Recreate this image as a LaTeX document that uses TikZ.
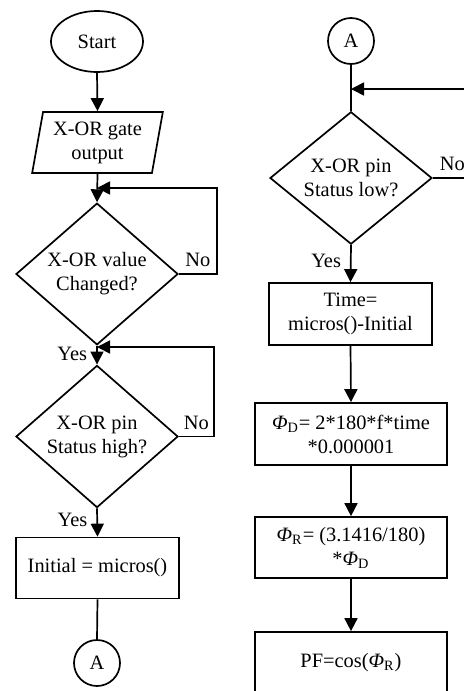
\documentclass[tikz,border=0pt]{standalone}
\usepackage{fontspec}
\setmainfont{Liberation Serif}
\usetikzlibrary{shapes.geometric,arrows.meta,calc}

\newcommand{\phisub}[1]{{\itshape Φ}\textsubscript{#1}}

\begin{document}
\begin{tikzpicture}[x=0.5pt,y=-0.5pt,
  every node/.style={font=\fontsize{10.2}{12}\selectfont, align=center},
  base/.style={draw, line width=0.85pt, inner sep=0pt},
  terminal/.style={base, ellipse, minimum width=46pt, minimum height=30.5pt},
  io/.style={base, trapezium, trapezium left angle=78, trapezium right angle=102,
    trapezium stretches=true, minimum width=65.5pt, minimum height=30.5pt},
  decision/.style={base, diamond, minimum width=81pt, minimum height=60.5pt},
  process/.style={base, rectangle, minimum height=30.5pt},
  connector/.style={base, circle, minimum size=23pt},
  flow/.style={line width=0.85pt},
  arrow/.style={flow, -{Triangle[length=6.5pt,width=6.5pt]}},
  lbl/.style={inner sep=3pt},
  ylbl/.style={inner sep=4.5pt}
]
\useasboundingbox (0,0) rectangle (464,691);
\clip (0,0) rectangle (464,691);

% left column
\node[terminal] (start) at (97,41.5) {Start};
\node[io] (input) at (97.5,142.5) {X-OR gate\\output};
\node[decision] (chg) at (97,274) {X-OR value\\Changed?};
\node[decision] (high) at (97,436.5) {X-OR pin\\Status high?};
\node[process, minimum width=81.5pt] (init) at (97.5,568) {Initial = micros()};
\node[connector] (outA) at (97,663) {A};
\coordinate (j1) at (97,188);
\coordinate (j2) at (97,347);

% right column
\node[connector] (inA) at (351,41) {A};
\node[decision] (low) at (351,178) {X-OR pin\\Status low?};
\node[process, minimum width=81.5pt, minimum height=31pt] (time) at (350.5,314) {Time=\\micros()-Initial};
\node[process, minimum width=96pt, minimum height=31pt] (phid) at (351,434)
  {\phisub{D}= 2*180*f*time\\*0.000001};
\node[process, minimum width=96pt] (phir) at (351,547.5)
  {\phisub{R}= (3.1416/180)\\*\phisub{D}};
\node[process, minimum width=96pt, minimum height=31pt] (pf) at (351,663) {PF=cos(\phisub{R})};
\coordinate (j3) at (351,89);
\coordinate (r3) at (472,178);

% left flow
\draw[arrow] (start.south) -- (input.north);
\draw[arrow] (input.south) -- (chg.north);
\draw[arrow] (chg.east) -- node[lbl, above] {No} ++(38,0) |- (j1);
\draw[arrow] (chg.south) -- node[ylbl, left, pos=0.44] {Yes} (high.north);
\draw[arrow] (high.east) -- node[lbl, above] {No} ++(35,0) |- (j2);
\draw[arrow] (high.south) -- node[ylbl, left, pos=0.4] {Yes} (init.north);
\draw[flow] (init.south) -- (outA.north);

% right flow
\draw[flow] (inA.south) -- (low.north);
\draw[flow] (low.east) -- node[lbl, above] {No} (r3);
\draw[arrow] (r3) |- (j3);
\draw[arrow] (low.south) -- node[ylbl, left, pos=0.42] {Yes} (time.north);
\draw[arrow] (time.south) -- (phid.north);
\draw[arrow] (phid.south) -- (phir.north);
\draw[arrow] (phir.south) -- (pf.north);
\end{tikzpicture}
\end{document}
